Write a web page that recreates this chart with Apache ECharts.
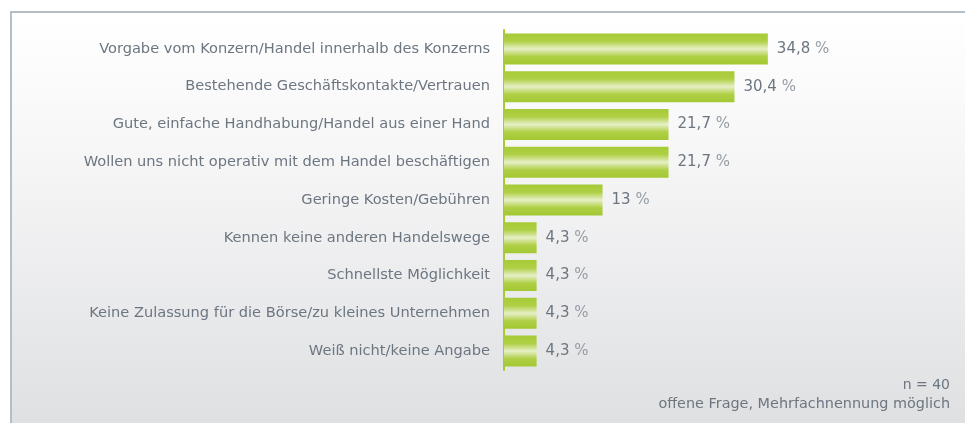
<!DOCTYPE html>
<html>
<head>
<meta charset="utf-8">
<script src="https://cdn.jsdelivr.net/npm/echarts@6/dist/echarts.min.js"></script>
<style>
  html, body { margin: 0; padding: 0; background: #fff; }
  #wrap {
    position: absolute; left: 10px; top: 11px; width: 960px; height: 412px;
    border-top: 2px solid #b4bec6; border-left: 2px solid #b4bec6;
    background: linear-gradient(to bottom, #ffffff 0%, #f6f6f7 35%, #dfe0e2 100%);
  }
  #chart { position: absolute; left: 0; top: 0; width: 965px; height: 423px; }
</style>
</head>
<body>
<div id="wrap"></div>
<div id="chart"></div>
<script>
const categories = [
  'Vorgabe vom Konzern/Handel innerhalb des Konzerns',
  'Bestehende Geschäftskontakte/Vertrauen',
  'Gute, einfache Handhabung/Handel aus einer Hand',
  'Wollen uns nicht operativ mit dem Handel beschäftigen',
  'Geringe Kosten/Gebühren',
  'Kennen keine anderen Handelswege',
  'Schnellste Möglichkeit',
  'Keine Zulassung für die Börse/zu kleines Unternehmen',
  'Weiß nicht/keine Angabe'
];
const values = [34.8, 30.4, 21.7, 21.7, 13, 4.3, 4.3, 4.3, 4.3];
const noteLines = ['n = 40', 'offene Frage, Mehrfachnennung möglich'];

const textColor = '#6c7680';
const fontFamily = '"DejaVu Sans", sans-serif';

const chart = echarts.init(document.getElementById('chart'));

// vertikaler Verlauf mit hellem Streifen in der Mitte
const barColor = new echarts.graphic.LinearGradient(0, 0, 0, 1, [
  { offset: 0, color: '#a6cb37' },
  { offset: 0.25, color: '#afcf44' },
  { offset: 0.5, color: '#e6efc6' },
  { offset: 0.75, color: '#afcf44' },
  { offset: 1, color: '#a3c833' }
]);

const options = {
  animation: false,
  backgroundColor: 'transparent',
  grid: { left: 504, right: 44, top: 30, bottom: 53 },
  xAxis: {
    type: 'value',
    min: 0,
    max: 55,
    show: false
  },
  yAxis: {
    type: 'category',
    inverse: true,
    data: categories,
    axisTick: { show: false },
    axisLine: { show: true, lineStyle: { color: '#a6cb30', width: 2 } },
    axisLabel: {
      margin: 14,
      color: textColor,
      fontFamily: fontFamily,
      fontSize: 14.6
    }
  },
  series: [
    {
      type: 'bar',
      data: values,
      barWidth: 31,
      itemStyle: { color: barColor },
      label: {
        show: true,
        position: 'right',
        distance: 9,
        fontFamily: fontFamily,
        fontSize: 15,
        formatter: function (params) {
          return '{n|' + String(params.value).replace('.', ',') + '} {p|%}';
        },
        rich: {
          n: { color: textColor, fontFamily: fontFamily, fontSize: 15 },
          p: { color: '#959da5', fontFamily: fontFamily, fontSize: 15 }
        }
      }
    }
  ],
  graphic: [
    {
      type: 'text',
      x: 950,
      y: 378,
      style: {
        text: noteLines[0],
        align: 'right',
        fill: textColor,
        font: '14px ' + fontFamily
      }
    },
    {
      type: 'text',
      x: 950,
      y: 397,
      style: {
        text: noteLines[1],
        align: 'right',
        fill: textColor,
        font: '14.4px ' + fontFamily
      }
    }
  ]
};

chart.setOption(options);
</script>
</body>
</html>
